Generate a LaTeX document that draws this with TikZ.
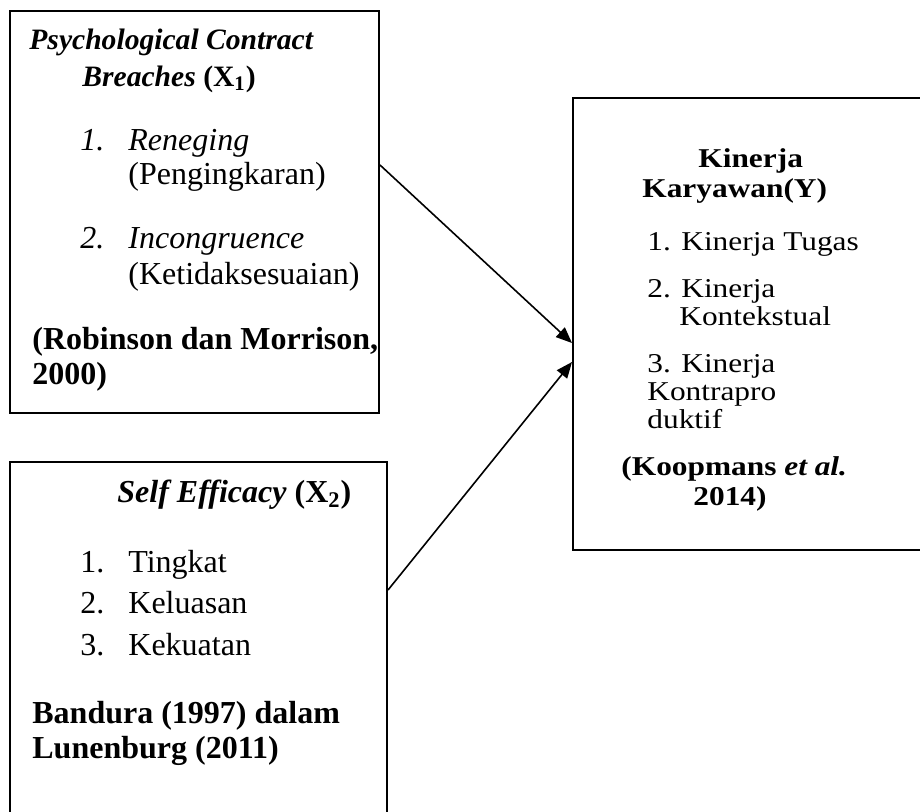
\documentclass[tikz,border=0pt]{standalone}
\usepackage{fontspec}
\setmainfont{Liberation Serif}
\usetikzlibrary{arrows.meta,fit}
\newcommand\squash[1]{\scalebox{0.98}[0.85]{#1}}
\tikzset{
  box/.style={draw,line width=1pt,inner sep=0pt},
  lbl/.style={anchor=base west,inner sep=0pt,font=\fontsize{16}{19}\selectfont},
  head/.style={lbl,font=\fontsize{14.8}{18}\selectfont\bfseries},
  link/.style={line width=0.8pt,-{Triangle[length=8pt,width=6.5pt]}}
}
\begin{document}
\begin{tikzpicture}[x=0.5pt,y=-0.5pt]
\useasboundingbox (0,0) rectangle (920,811);
\clip (0,0) rectangle (920,811);
\node[box,fit={(10,11) (379,413)}] (pcb) {};
\node[box,fit={(10,462) (387,840)}] (se) {};
\node[box,fit={(573,98) (940,550)}] (kk) {};
\draw[link] (pcb.east |- 0,165) -- (kk.west |- 0,343);
\draw[link] (se.east |- 0,590) -- (kk.west |- 0,362);
% X1
\node[head] (pcbA) at (29,49) {\textit{Psychological Contract}};
\node[head] (pcbB) at (82,86) {\textit{Breaches} (X\textsubscript{1})};
\node[lbl] (pcbN1) at (80,150) {\textit{1.}};
\node[lbl] (pcbI1) at (128,150) {\textit{Reneging}};
\node[lbl] (pcbI1b) at (128,184) {(Pengingkaran)};
\node[lbl] (pcbN2) at (80,248) {\textit{2.}};
\node[lbl] (pcbI2) at (128,248) {\textit{Incongruence}};
\node[lbl] (pcbI2b) at (128,284) {(Ketidaksesuaian)};
\node[lbl] (pcbR1) at (32,349) {\textbf{(Robinson dan Morrison,}};
\node[lbl] (pcbR2) at (32,384) {\textbf{2000)}};
% X2
\node[lbl] (seA) at (117,502) {\textbf{\textit{Self Efficacy} (X\textsubscript{2})}};
\foreach \n/\t/\y in {1/Tingkat/572,2/Keluasan/613,3/Kekuatan/655}{
  \node[lbl] (seN\n) at (80,\y) {\n.};
  \node[lbl] (seI\n) at (128,\y) {\t};
}
\node[lbl] (seR1) at (32,723) {\textbf{Bandura (1997) dalam}};
\node[lbl] (seR2) at (32,758) {\textbf{Lunenburg (2011)}};
% Y
\node[lbl] (kkA) at (698,167) {\squash{\textbf{Kinerja}}};
\node[lbl] (kkB) at (642,197) {\squash{\textbf{Karyawan(Y)}}};
\node[lbl] (kkI1) at (647,250) {\squash{1. Kinerja Tugas}};
\node[lbl] (kkI2) at (647,297) {\squash{2. Kinerja}};
\node[lbl] (kkI2b) at (679,325) {\squash{Kontekstual}};
\node[lbl] (kkI3) at (647,372) {\squash{3. Kinerja}};
\node[lbl] (kkI3b) at (647,400) {\squash{Kontrapro}};
\node[lbl] (kkI3c) at (647,428) {\squash{duktif}};
\node[lbl] (kkR1) at (621,475) {\squash{\textbf{(Koopmans \textit{et al.}}}};
\node[lbl] (kkR2) at (693,505) {\squash{\textbf{2014)}}};
\end{tikzpicture}
\end{document}
